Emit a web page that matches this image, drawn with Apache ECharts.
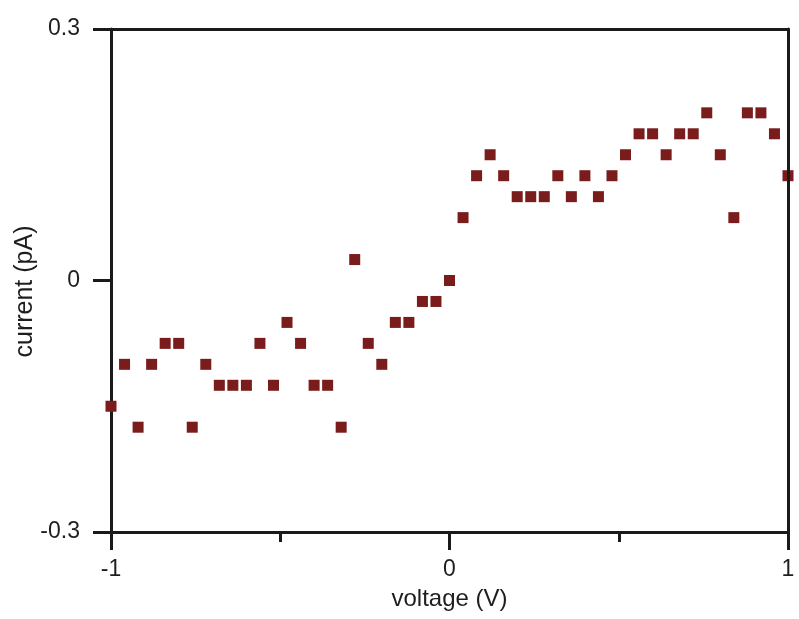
<!DOCTYPE html>
<html>
<head>
<meta charset="utf-8">
<script src="https://cdn.jsdelivr.net/npm/echarts@6/dist/echarts.min.js"></script>
<style>html,body{margin:0;padding:0;background:#fff;}#c{width:799px;height:619px;}</style>
</head>
<body>
<div id="c"></div>
<script>
const voltage = [-1,-0.96,-0.92,-0.88,-0.84,-0.80,-0.76,-0.72,-0.68,-0.64,-0.60,-0.56,-0.52,-0.48,-0.44,-0.40,-0.36,-0.32,-0.28,-0.24,-0.20,-0.16,-0.12,-0.08,-0.04,0,0.04,0.08,0.12,0.16,0.20,0.24,0.28,0.32,0.36,0.40,0.44,0.48,0.52,0.56,0.60,0.64,0.68,0.72,0.76,0.80,0.84,0.88,0.92,0.96,1.00];
const current = [-0.15,-0.1,-0.175,-0.1,-0.075,-0.075,-0.175,-0.1,-0.125,-0.125,-0.125,-0.075,-0.125,-0.05,-0.075,-0.125,-0.125,-0.175,0.025,-0.075,-0.1,-0.05,-0.05,-0.025,-0.025,0,0.075,0.125,0.15,0.125,0.1,0.1,0.1,0.125,0.1,0.125,0.1,0.125,0.15,0.175,0.175,0.15,0.175,0.175,0.2,0.15,0.075,0.2,0.2,0.175,0.125];
const xTickLabels = {'-1':'-1','0':'0','1':'1'};
const yTickLabels = {'-0.3':'-0.3','0':'0','0.3':'0.3'};

const axisColor = '#1a1a1a';
const textColor = '#1e1e1e';
const font = 'Liberation Sans, Arial, sans-serif';
const chart = echarts.init(document.getElementById('c'));
chart.setOption({
  animation: false,
  backgroundColor: '#fff',
  grid: {left: 111, right: 11, top: 29, bottom: 87, containLabel: false, outerBoundsMode: 'none'},
  xAxis: [{
    type: 'value', min: -1, max: 1, interval: 1, position: 'bottom',
    axisLine: {show: true, onZero: false, lineStyle: {color: axisColor, width: 3}},
    axisTick: {show: true, inside: false, length: 18, lineStyle: {color: axisColor, width: 3}},
    minorTick: {show: true, splitNumber: 2, length: 10, lineStyle: {color: axisColor, width: 3}},
    splitLine: {show: false},
    axisLabel: {margin: 26, fontSize: 23, color: textColor, fontFamily: font,
      formatter: v => { const k = String(Math.round(v)); return xTickLabels[k] !== undefined ? xTickLabels[k] : ''; }},
    name: 'voltage (V)', nameLocation: 'middle', nameGap: 67, nameMoveOverlap: false,
    nameTextStyle: {fontSize: 24, color: textColor, fontFamily: font, verticalAlign: 'middle'}
  }, {
    type: 'value', min: -1, max: 1, position: 'top', z: 10,
    axisLine: {show: true, onZero: false, lineStyle: {color: axisColor, width: 3}},
    axisTick: {show: false}, axisLabel: {show: false}, splitLine: {show: false}
  }],
  yAxis: [{
    type: 'value', min: -0.3, max: 0.3, interval: 0.3, position: 'left',
    axisLine: {show: true, onZero: false, lineStyle: {color: axisColor, width: 3}},
    axisTick: {show: true, inside: false, length: 18, lineStyle: {color: axisColor, width: 3}},
    splitLine: {show: false},
    axisLabel: {margin: 31, fontSize: 23, color: textColor, fontFamily: font,
      formatter: v => { const k = String(Math.round(v * 10) / 10); return yTickLabels[k] !== undefined ? yTickLabels[k] : ''; }},
    name: 'current (pA)', nameLocation: 'middle', nameGap: 86, nameRotate: 90, nameMoveOverlap: false,
    nameTextStyle: {fontSize: 25, color: textColor, fontFamily: font, verticalAlign: 'middle', padding: [0, 22, 0, 0]}
  }, {
    type: 'value', min: -0.3, max: 0.3, position: 'right', z: 10,
    axisLine: {show: true, onZero: false, lineStyle: {color: axisColor, width: 3}},
    axisTick: {show: false}, axisLabel: {show: false}, splitLine: {show: false}
  }],
  series: [{
    type: 'scatter',
    xAxisIndex: 0, yAxisIndex: 0,
    symbol: 'rect', symbolSize: 11,
    clip: false,
    itemStyle: {color: '#7b1c1c', opacity: 1},
    data: voltage.map((v, i) => [v, current[i]])
  }]
});
</script>
</body>
</html>
